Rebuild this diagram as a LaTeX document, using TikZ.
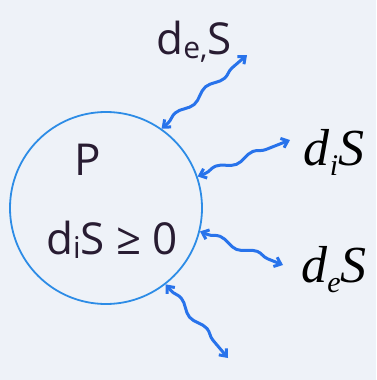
\documentclass[tikz,border=0pt]{standalone}
\usepackage{fontspec}
\newfontfamily\handfont{Open Sans}
\newfontfamily\tagfont{Liberation Serif}
\usetikzlibrary{arrows.meta,decorations.pathmorphing}
\definecolor{paper}{RGB}{238,242,248}
\definecolor{ring}{RGB}{45,140,230}
\definecolor{flow}{RGB}{40,115,235}
\definecolor{ink}{RGB}{40,28,50}
\tikzset{
  wave/.style={flow,line width=3pt,{Straight Barb[length=6pt,width=10pt]}-{Straight Barb[length=6pt,width=10pt]},
    decorate,decoration={snake,amplitude=3pt,segment length=40pt,pre length=8pt,post length=8pt}},
  hand/.style={ink,inner sep=1pt,font=\handfont\fontsize{44}{48}\selectfont},
  tag/.style={black,inner sep=1pt,font=\tagfont\itshape\fontsize{52}{56}\selectfont}
}
\newcommand{\lowsub}[1]{\raisebox{-4pt}{\fontsize{30}{30}\selectfont #1}}
\newcommand{\tagsub}[1]{\raisebox{-10pt}{\fontsize{30}{30}\selectfont #1}}
\begin{document}
\begin{tikzpicture}[x=1pt,y=-1pt]
\fill[paper] (0,0) rectangle (376,380);
\path[use as bounding box] (0,0) rectangle (376,380);
\node[circle,draw=ring,line width=1.8pt,minimum size=192pt,inner sep=0pt] (sys) at (106,208) {};
\node[hand] (name) at (88,160) {P};
\node[hand] (law) at (112,240) {d\lowsub{i}S ≥ 0};
\node[hand] (top) at (194,42) {d\lowsub{e,}S};
\node[tag] (inS) at (334,152) {d\tagsub{i}S};
\node[tag] (exS) at (334,270) {d\tagsub{e}S};
\coordinate (a) at (247,55);
\coordinate (b) at (290,140);
\coordinate (c) at (283,265);
\coordinate (e) at (228,358);
\draw[wave] (sys.55) -- (a);
\draw[wave] (sys.19) -- (b);
\draw[wave] (sys.-14) -- (c);
\draw[wave] (sys.-52) -- (e);
\end{tikzpicture}
\end{document}
